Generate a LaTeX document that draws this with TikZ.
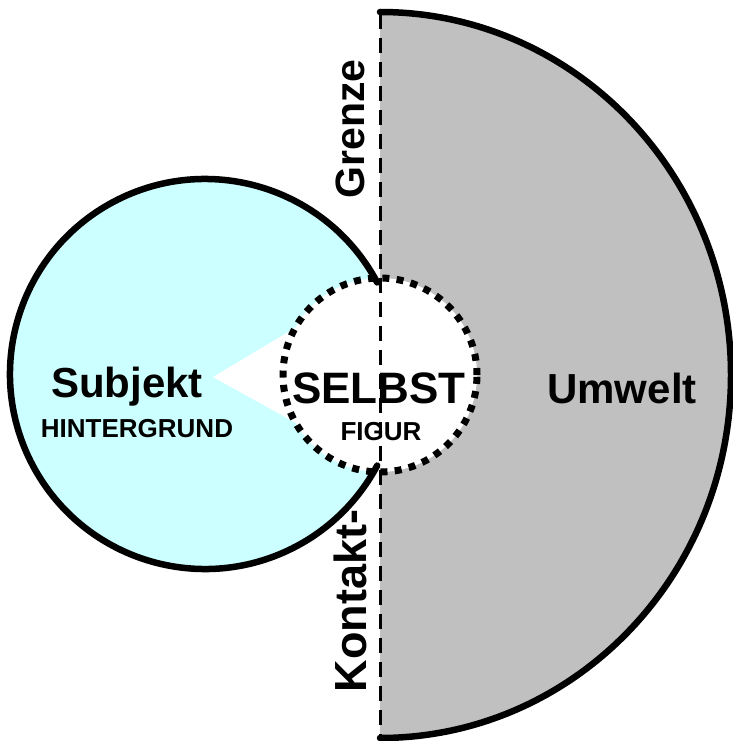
\documentclass[tikz,border=0pt]{standalone}
\usepackage{fontspec}
\setmainfont{Liberation Sans}
\usepackage{tikz}

\definecolor{umweltgray}{RGB}{192,192,192}
\definecolor{subjektcyan}{RGB}{204,255,255}

\begin{document}
\begin{tikzpicture}[x=1pt, y=1pt,
    outline/.style={line width=6.5pt, line cap=round},
    bigtext/.style={font=\fontsize{42}{46}\selectfont\bfseries, anchor=base},
    smalltext/.style={font=\fontsize{26}{28}\selectfont\bfseries, anchor=base},
    sidetext/.style={font=\fontsize{41}{44}\selectfont\bfseries, rotate=90, anchor=base}]
    \useasboundingbox (0,0) rectangle (732,-741);

    % Umwelt
    \coordinate (mid) at (380,-375);
    \filldraw[fill=umweltgray, outline] (380,-12) arc[start angle=90, end angle=-90, x radius=351pt, y radius=363pt];

    % Subjekt
    \coordinate (subj) at (205,-374);
    \fill[subjektcyan] (subj) circle (195pt);

    % Selbst and its wedge
    \fill[white] (213,-377) -- (305,-322) -- (305,-428) -- cycle;
    \fill[white] (mid) circle (97pt);
    \draw[outline] (subj) ++(28:195pt) arc[start angle=28, end angle=332, radius=195pt];

    % Grenze
    \draw[line width=3pt, dash pattern=on 15pt off 9pt] (380,-14) -- (380,-736);
    \draw[line width=7pt, dash pattern=on 7pt off 7.3pt] (mid) circle (97pt);

    % Labels
    \node[bigtext] (subjekt) at (127,-397) {Subjekt};
    \node[smalltext] (hintergrund) at (137,-437) {HINTERGRUND};
    \node[bigtext, font=\fontsize{44}{48}\selectfont\bfseries] (selbst) at (379,-403) {SELBST};
    \node[smalltext] (figur) at (381,-440) {FIGUR};
    \node[bigtext] (umwelt) at (622,-403) {Umwelt};
    \node[sidetext] (grenze) at (364,-129) {Grenze};
    \node[sidetext, font=\fontsize{45}{48}\selectfont\bfseries] (kontakt) at (366,-601) {Kontakt-};
\end{tikzpicture}
\end{document}
